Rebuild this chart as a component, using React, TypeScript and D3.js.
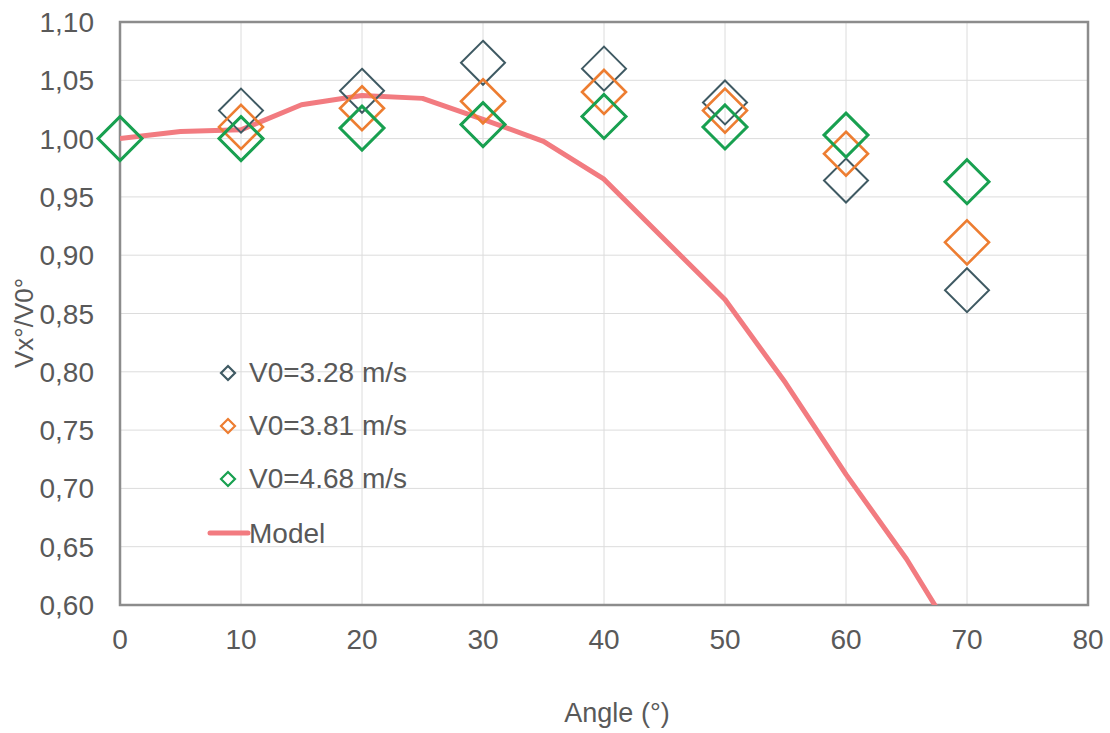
import React from "react";
import * as d3 from "d3";

const angles = [0, 10, 20, 30, 40, 50, 60, 70];
const seriesNames = ["V0=3.28 m/s", "V0=3.81 m/s", "V0=4.68 m/s"];
const v328: (number | null)[] = [null, 1.024, 1.041, 1.065, 1.060, 1.031, 0.964, 0.870];
const v381: (number | null)[] = [null, 1.010, 1.026, 1.032, 1.040, 1.024, 0.987, 0.911];
const v468: (number | null)[] = [1.0, 1.0, 1.009, 1.012, 1.019, 1.010, 1.003, 0.963];
const seriesColors = ["#3F5A63", "#ED7D31", "#18A050"];
const seriesStroke = [2, 2.6, 3];

const modelAngles = [0, 5, 10, 15, 20, 25, 30, 35, 40, 45, 50, 55, 60, 65, 70];
const modelValues = [1.0, 1.006, 1.0075, 1.029, 1.037, 1.0345, 1.0165, 0.9977, 0.9652, 0.9134, 0.862, 0.7906, 0.712, 0.6395, 0.555];
const modelName = "Model";
const modelColor = "#F27B80";

const xTicks = [0, 10, 20, 30, 40, 50, 60, 70, 80];
const yTicks = [0.6, 0.65, 0.7, 0.75, 0.8, 0.85, 0.9, 0.95, 1.0, 1.05, 1.1];

const xTitle = "Angle (°)";
const yTitle = "Vx°/V0°";

export default function App() {
  const W = 1110, H = 733;
  const left = 120, right = 1088, top = 22, bottom = 605;
  const x = d3.scaleLinear().domain([0, 80]).range([left, right]);
  const y = d3.scaleLinear().domain([0.6, 1.1]).range([bottom, top]);
  const font = "'Liberation Sans', Arial, sans-serif";
  const textColor = "#595959";
  const allSeries = [v328, v381, v468];

  const diamond = (cx: number, cy: number, r: number) =>
    `M${cx},${cy - r}L${cx + r},${cy}L${cx},${cy + r}L${cx - r},${cy}Z`;

  const line = d3
    .line<number>()
    .x((_, i) => x(modelAngles[i]))
    .y((d) => y(d));

  const fmt = (v: number) => v.toFixed(2).replace(".", ",");

  const legendY = [373, 426, 479, 533];

  return (
    <svg
      width={W}
      height={H}
      style={{ position: "absolute", left: 0, top: 0, background: "#fff" }}
      fontFamily={font}
    >
      <defs>
        <clipPath id="plotClip">
          <rect x={left} y={top} width={right - left} height={bottom - top} />
        </clipPath>
      </defs>
      <rect x={0} y={0} width={W} height={H} fill="#fff" />
      {xTicks.map((t) => (
        <line key={"gx" + t} x1={x(t)} x2={x(t)} y1={top} y2={bottom} stroke="#DCDCDC" strokeWidth={1} />
      ))}
      {yTicks.map((t) => (
        <line key={"gy" + t} x1={left} x2={right} y1={y(t)} y2={y(t)} stroke="#DCDCDC" strokeWidth={1} />
      ))}
      <rect x={left} y={top} width={right - left} height={bottom - top} fill="none" stroke="#8C8C8C" strokeWidth={2.5} />
      <path
        d={line(modelValues) || ""}
        fill="none"
        stroke={modelColor}
        strokeWidth={5}
        strokeLinejoin="round"
        clipPath="url(#plotClip)"
      />
      {allSeries.map((s, si) =>
        s.map((v, i) =>
          v == null ? null : (
            <path
              key={`m${si}-${i}`}
              d={diamond(x(angles[i]), y(v), 22)}
              fill="none"
              stroke={seriesColors[si]}
              strokeWidth={seriesStroke[si]}
            />
          )
        )
      )}
      {yTicks.map((t) => (
        <text key={"ly" + t} x={94} y={y(t)} dy="0.36em" textAnchor="end" fontSize={28} fill={textColor}>
          {fmt(t)}
        </text>
      ))}
      {xTicks.map((t) => (
        <text key={"lx" + t} x={x(t)} y={649} textAnchor="middle" fontSize={28} fill={textColor}>
          {t}
        </text>
      ))}
      <text x={617} y={722} textAnchor="middle" fontSize={27} fill={textColor}>
        {xTitle}
      </text>
      <text
        transform={`translate(33,323) rotate(-90)`}
        textAnchor="middle"
        fontSize={26}
        fill={textColor}
      >
        {yTitle}
      </text>
      {seriesNames.map((n, i) => (
        <g key={"leg" + i}>
          <path d={diamond(228, legendY[i], 7)} fill="none" stroke={seriesColors[i]} strokeWidth={2.2} />
          <text x={249} y={legendY[i] + 9} fontSize={28} fill={textColor}>
            {n}
          </text>
        </g>
      ))}
      <line x1={210} x2={248} y1={legendY[3]} y2={legendY[3]} stroke={modelColor} strokeWidth={5} strokeLinecap="round" />
      <text x={249} y={legendY[3] + 10} fontSize={28} fill={textColor}>
        {modelName}
      </text>
    </svg>
  );
}
